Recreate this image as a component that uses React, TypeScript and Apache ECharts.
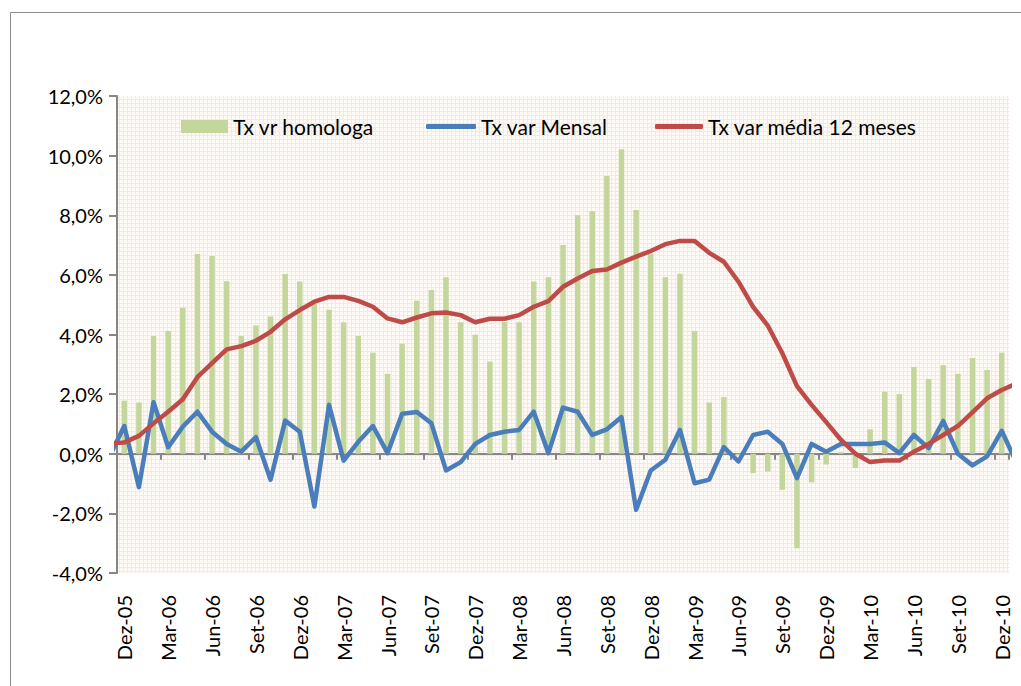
import React, { useEffect, useRef } from 'react';
import * as echarts from 'echarts';

// Months, including one hidden month on each side (Nov-05 and Jan-11) so lines run to the plot edges
const categories = [
  'Nov-05', 'Dez-05',
  'Jan-06', 'Fev-06', 'Mar-06', 'Abr-06', 'Mai-06', 'Jun-06', 'Jul-06', 'Ago-06', 'Set-06', 'Out-06', 'Nov-06', 'Dez-06',
  'Jan-07', 'Fev-07', 'Mar-07', 'Abr-07', 'Mai-07', 'Jun-07', 'Jul-07', 'Ago-07', 'Set-07', 'Out-07', 'Nov-07', 'Dez-07',
  'Jan-08', 'Fev-08', 'Mar-08', 'Abr-08', 'Mai-08', 'Jun-08', 'Jul-08', 'Ago-08', 'Set-08', 'Out-08', 'Nov-08', 'Dez-08',
  'Jan-09', 'Fev-09', 'Mar-09', 'Abr-09', 'Mai-09', 'Jun-09', 'Jul-09', 'Ago-09', 'Set-09', 'Out-09', 'Nov-09', 'Dez-09',
  'Jan-10', 'Fev-10', 'Mar-10', 'Abr-10', 'Mai-10', 'Jun-10', 'Jul-10', 'Ago-10', 'Set-10', 'Out-10', 'Nov-10', 'Dez-10',
  'Jan-11',
];

const homologa = [
  null, 1.78,
  1.72, 3.95, 4.12, 4.90, 6.70, 6.63, 5.79, 3.95, 4.30, 4.60, 6.03, 5.78,
  5.02, 4.83, 4.41, 3.95, 3.39, 2.68, 3.69, 5.13, 5.49, 5.92, 4.41, 3.99,
  3.09, 4.42, 4.41, 5.78, 5.92, 7.00, 8.00, 8.13, 9.32, 10.21, 8.18, 6.72,
  5.92, 6.04, 4.12, 1.72, 1.90, -0.05, -0.65, -0.60, -1.21, -3.17, -0.96, -0.36,
  0.05, -0.48, 0.82, 2.08, 2.00, 2.91, 2.51, 2.97, 2.68, 3.21, 2.81, 3.39,
  null,
];

const mensal = [
  -0.08, 0.93,
  -1.12, 1.73, 0.22, 0.91, 1.41, 0.74, 0.33, 0.07, 0.56, -0.87, 1.11, 0.74,
  -1.77, 1.64, -0.23, 0.40, 0.93, 0.02, 1.34, 1.40, 1.02, -0.56, -0.28, 0.33,
  0.63, 0.74, 0.80, 1.41, 0.02, 1.55, 1.41, 0.63, 0.82, 1.23, -1.88, -0.56,
  -0.20, 0.80, -0.99, -0.87, 0.22, -0.26, 0.63, 0.74, 0.33, -0.82, 0.33, 0.07,
  0.33, 0.33, 0.33, 0.38, 0.02, 0.63, 0.19, 1.10, 0.00, -0.39, -0.09, 0.77,
  -0.29,
];

const media12 = [
  0.35, 0.38,
  0.60, 1.02, 1.41, 1.83, 2.57, 3.04, 3.50, 3.61, 3.79, 4.09, 4.51, 4.82,
  5.10, 5.26, 5.26, 5.13, 4.93, 4.54, 4.41, 4.57, 4.71, 4.74, 4.65, 4.41,
  4.53, 4.53, 4.65, 4.93, 5.12, 5.60, 5.88, 6.13, 6.18, 6.41, 6.61, 6.80,
  7.03, 7.14, 7.14, 6.74, 6.44, 5.77, 4.93, 4.30, 3.37, 2.27, 1.64, 1.06,
  0.47, 0.00, -0.28, -0.23, -0.23, 0.07, 0.33, 0.63, 0.93, 1.39, 1.86, 2.14,
  2.35,
];

const seriesNames = ['Tx vr homologa', 'Tx var Mensal', 'Tx var média 12 meses'];
const yTicks = { min: -4, max: 12, interval: 2 };

const FONT = 'Lato, "Open Sans", sans-serif';

function makePattern(): HTMLCanvasElement {
  const c = document.createElement('canvas');
  c.width = 4;
  c.height = 4;
  const ctx = c.getContext('2d');
  if (ctx) {
    ctx.fillStyle = '#fffaf6';
    ctx.fillRect(0, 0, 4, 4);
    ctx.fillStyle = '#fce6d6';
    ctx.fillRect(3, 0, 1, 4);
    ctx.fillRect(0, 3, 4, 1);
  }
  return c;
}

export default function App() {
  const ref = useRef<HTMLDivElement>(null);

  useEffect(() => {
    if (!ref.current) return;
    const chart = echarts.init(ref.current, null, { renderer: 'svg' });
    const first = 1;
    const last = categories.length - 2;
    const every3 = (idx: number) => (idx - first) % 3 === 0;
    const legendText = { fontFamily: FONT, fontSize: 21, color: '#000' };

    chart.setOption({
      animation: false,
      backgroundColor: '#ffffff',
      graphic: [
        {
          type: 'rect',
          shape: { x: 10.5, y: 12.5, width: 1200, height: 900 },
          style: { fill: 'none', stroke: '#8c8c8c', lineWidth: 1 },
          silent: true,
          z: -10,
        },
      ],
      legend: [
        {
          data: [seriesNames[0]], left: 176, top: 111, itemWidth: 47, itemHeight: 13,
          textStyle: legendText, icon: 'rect',
        },
        {
          data: [seriesNames[1]], left: 421, top: 111, itemWidth: 50, itemHeight: 5,
          textStyle: legendText, icon: 'roundRect',
        },
        {
          data: [seriesNames[2]], left: 650, top: 111, itemWidth: 48, itemHeight: 5,
          textStyle: legendText, icon: 'roundRect',
        },
      ],
      grid: {
        left: 117, right: 12, top: 96, bottom: 113,
        show: true, backgroundColor: { image: makePattern(), repeat: 'repeat' }, borderWidth: 0,
      },
      xAxis: [
        {
          type: 'category',
          data: categories,
          min: first,
          max: last,
          boundaryGap: true,
          position: 'bottom',
          axisLine: { show: false, onZero: false },
          axisTick: { show: false },
          axisLabel: {
            interval: every3,
            rotate: 90,
            margin: 22,
            fontFamily: FONT,
            fontSize: 20,
            color: '#000',
          },
          splitLine: { show: false },
        },
        {
          type: 'category',
          data: categories,
          min: first,
          max: last,
          boundaryGap: true,
          position: 'bottom',
          axisLine: { show: true, onZero: true, lineStyle: { color: '#868686', width: 2 } },
          axisTick: { show: true, interval: every3, length: 6, alignWithLabel: false, lineStyle: { color: '#868686', width: 2 } },
          axisLabel: { show: false },
          splitLine: { show: false },
        },
      ],
      yAxis: {
        type: 'value',
        min: yTicks.min,
        max: yTicks.max,
        interval: yTicks.interval,
        axisLine: { show: true, lineStyle: { color: '#868686', width: 2 } },
        axisTick: { show: true, length: 8, lineStyle: { color: '#868686', width: 2 } },
        axisLabel: {
          margin: 14,
          fontFamily: FONT,
          fontSize: 20,
          color: '#000',
          formatter: (v: number) => v.toFixed(1).replace('.', ',') + '%',
        },
        splitLine: { show: false },
      },
      series: [
        {
          name: seriesNames[0],
          type: 'bar',
          xAxisIndex: 0,
          data: homologa,
          barWidth: 5.5,
          itemStyle: { color: '#c3d69b' },
          clip: true,
        },
        {
          name: seriesNames[1],
          type: 'line',
          xAxisIndex: 0,
          data: mensal,
          symbol: 'none',
          clip: true,
          itemStyle: { color: '#4a7ebb' },
          lineStyle: { color: '#4a7ebb', width: 4.5, join: 'round', cap: 'round' },
        },
        {
          name: seriesNames[2],
          type: 'line',
          xAxisIndex: 0,
          data: media12,
          symbol: 'none',
          clip: true,
          itemStyle: { color: '#be4b48' },
          lineStyle: { color: '#be4b48', width: 4.5, join: 'round', cap: 'round' },
        },
      ],
    });

    return () => chart.dispose();
  }, []);

  return (
    <div
      ref={ref}
      style={{ position: 'fixed', left: 0, top: 0, width: 1021, height: 686 }}
    />
  );
}
